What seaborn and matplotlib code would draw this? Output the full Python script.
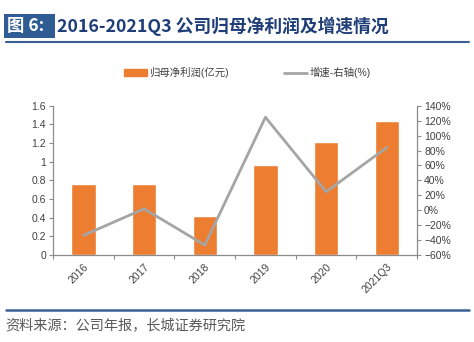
import matplotlib
matplotlib.use("Agg")
import matplotlib.pyplot as plt
import seaborn as sns
import pandas as pd
import numpy as np
from matplotlib.ticker import FixedLocator, PercentFormatter
from matplotlib.lines import Line2D
from matplotlib.patches import Patch, Rectangle

categories = ["2016", "2017", "2018", "2019", "2020", "2021Q3"]
profit = [0.76, 0.765, 0.42, 0.965, 1.21, 1.44]
growth = [-33.6, 2.0, -46.6, 124.5, 24.8, 84.0]
left_ticks = [0, 0.2, 0.4, 0.6, 0.8, 1, 1.2, 1.4, 1.6]
right_ticks = [-60, -40, -20, 0, 20, 40, 60, 80, 100, 120, 140]

sns.set_theme(style="white")
plt.rcParams['font.family'] = ['Liberation Sans', 'Noto Sans CJK SC', 'DejaVu Sans']

ORANGE = "#ED7D31"
GRAY = "#A5A5A5"
AX = "#8C8C8C"
BLUE = "#1F3E78"
TXT = "#404040"

df = pd.DataFrame({"cat": categories, "profit": profit, "growth": growth})

fig = plt.figure(figsize=(4.74, 3.42), dpi=100)
ax = fig.add_axes([0.112, 0.254, 0.768, 0.437])
sns.barplot(data=df, x="cat", y="profit", color=ORANGE, width=0.4,
            saturation=1, ax=ax)
ax.set_xlim(-0.5, len(categories) - 0.5)
ax.set_ylim(0, 1.6)
ax.set_yticks(left_ticks)
ax.set_yticklabels([f"{v:g}" for v in left_ticks], fontsize=7.5, color=TXT)
ax.set_xlabel("")
ax.set_ylabel("")
ax.set_xticks(range(len(categories)))
ax.set_xticklabels(categories, rotation=45, fontsize=7.5, color=TXT,
                   ha="right", rotation_mode="anchor")
ax.xaxis.set_minor_locator(FixedLocator(np.arange(-0.5, len(categories), 1.0)))
ax.tick_params(axis="x", which="major", length=0, pad=5)
ax.tick_params(axis="x", which="minor", length=3, color=AX, width=0.8, direction="out", bottom=True)
ax.tick_params(axis="y", length=3, color=AX, width=0.8, direction="out", left=True, pad=2)
for s in ["top", "right"]:
    ax.spines[s].set_visible(False)
for s in ["left", "bottom"]:
    ax.spines[s].set_color(AX)
    ax.spines[s].set_linewidth(0.9)

ax2 = ax.twinx()
sns.lineplot(data=df, x="cat", y="growth", color=GRAY, linewidth=2, sort=False, ax=ax2)
ax2.set_ylim(-60, 140)
ax2.set_yticks(right_ticks)
ax2.yaxis.set_major_formatter(PercentFormatter(decimals=0))
ax2.tick_params(axis="y", labelsize=7.5, colors=TXT, length=3, width=0.8,
                direction="out", right=True, pad=2)
ax2.tick_params(axis="y", color=AX)
ax2.set_ylabel("")
ax2.set_xlabel("")
for s in ["top", "left", "bottom"]:
    ax2.spines[s].set_visible(False)
ax2.spines["right"].set_color(AX)
ax2.spines["right"].set_linewidth(0.9)
ax2.set_xlim(-0.5, len(categories) - 0.5)

handles = [Patch(color=ORANGE, label="归母净利润(亿元)"),
           Line2D([0], [0], color=GRAY, lw=2, label="增速-右轴(%)")]
fig.legend(handles=handles, loc="center", bbox_to_anchor=(0.522, 0.787), ncol=2,
           frameon=False, fontsize=7.5, handlelength=2.2, handleheight=0.6,
           columnspacing=5.3, handletextpad=0.2, labelcolor=TXT)

# Header
fig.add_artist(Rectangle((0.0084, 0.889), 0.107, 0.07, transform=fig.transFigure,
                         fc="#2F5C92", ec="none"))
fig.text(0.015, 0.924, "图 6:", fontsize=12.5, color="white", va="center", ha="left",
         fontweight="bold", family=['Noto Sans CJK SC', 'DejaVu Sans'])
fig.text(0.121, 0.924, "2016-2021Q3 公司归母净利润及增速情况", fontsize=12.8,
         color=BLUE, va="center", ha="left", fontweight="bold",
         family=['Noto Sans CJK SC', 'DejaVu Sans'])
fig.add_artist(Line2D([0.012, 0.99], [0.878, 0.878], color="#3A5F95", lw=1.5,
                      transform=fig.transFigure))
fig.add_artist(Line2D([0.012, 0.99], [0.094, 0.094], color="#3A5F95", lw=1.8,
                      transform=fig.transFigure))
fig.text(0.012, 0.047, "资料来源：公司年报，长城证券研究院", fontsize=10.2,
         color="#595959", va="center", ha="left", style="italic",
         family=['Noto Sans CJK SC', 'DejaVu Sans'])

fig.savefig("out.png", dpi=100)
